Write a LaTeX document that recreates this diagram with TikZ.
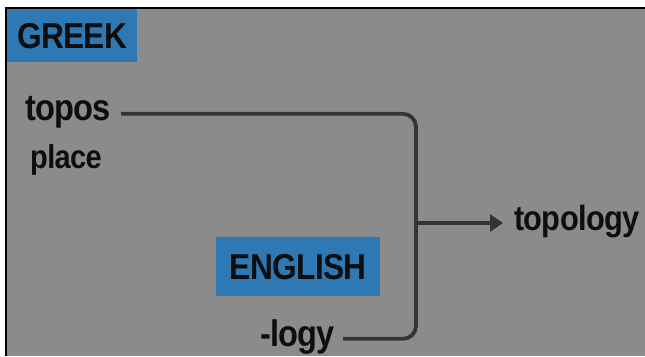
\documentclass[tikz,border=0pt]{standalone}
\usepackage{fontspec}
\newfontfamily\lblfont{Liberation Sans}[FakeStretch=0.88, LetterSpace=-2]
\usetikzlibrary{arrows.meta}
\definecolor{panelgray}{RGB}{139,139,139}
\definecolor{tagblue}{RGB}{46,120,180}
\definecolor{ink}{RGB}{14,14,14}
\definecolor{wire}{RGB}{52,52,52}
\tikzset{
  word/.style={inner sep=0pt, anchor=base west, text=ink,
    font=\lblfont\bfseries\fontsize{#1}{#1}\selectfont},
  word/.default=36,
  tag/.style={fill=tagblue, inner sep=0pt, text=ink,
    font=\lblfont\bfseries\fontsize{36}{36}\selectfont},
  conn/.style={draw=wire, line width=3.8pt, rounded corners=13pt},
  tip/.style={-{Triangle[length=13pt,width=17pt]}}
}
\begin{document}
\begin{tikzpicture}[x=1pt,y=-1pt]
  % page, frame and gray panel
  \useasboundingbox (0,0) rectangle (645,356);
  \fill[white] (0,0) rectangle (645,356);
  \fill[panelgray] (6,8) rectangle (645,356);
  \draw[black, line width=2pt] (6,356) -- (6,8) -- (645,8);

  % language tags
  \node[tag, minimum width=130pt, minimum height=53pt, anchor=north west]
    (greek) at (7,9) {GREEK};
  \node[tag, minimum width=164pt, minimum height=59pt, anchor=north west]
    (english) at (216,237) {ENGLISH};

  % words
  \node[word=37] (topos) at (25,120) {topos};
  \node[word=33] (place) at (30,168) {place};
  \node[word=37] (logy) at (260,346) {-logy};
  \node[word=35] (topology) at (514,230) {topology};

  % bracket joining the two roots
  \coordinate (toposend) at ([xshift=10pt,yshift=4pt]topos.mid east);
  \coordinate (logyend) at ([xshift=8pt,yshift=5pt]logy.mid east);
  \coordinate (join) at (416,223);
  \draw[conn] (toposend) -| (join) |- (logyend);

  % result arrow
  \draw[conn, tip, shorten >=11pt] (join) -- (join -| topology.west);
\end{tikzpicture}
\end{document}
